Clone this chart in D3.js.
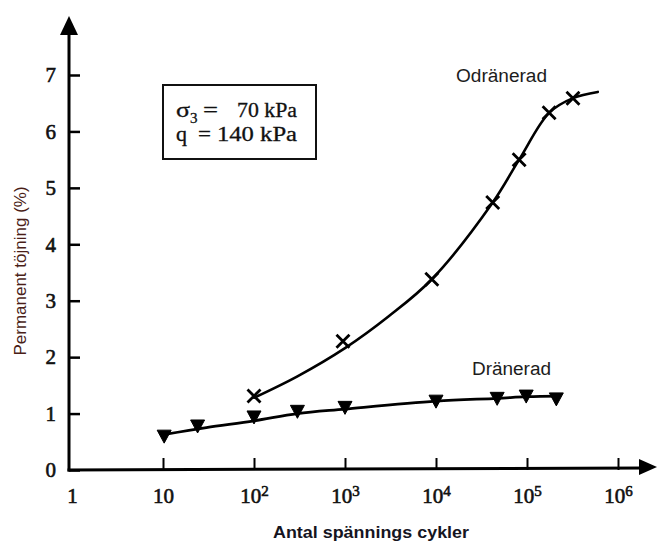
<!DOCTYPE html>
<html>
<head>
<meta charset="utf-8">
<script src="https://cdn.jsdelivr.net/npm/d3@7/dist/d3.min.js"></script>
<style>
  html, body { margin: 0; padding: 0; background: #fff; }
  svg { display: block; }
</style>
</head>
<body>
<svg id="chart" width="657" height="541"></svg>
<script>
// ---------------- data ----------------
const xTicks = [1, 10, 100, 1000, 10000, 100000, 1000000];
const xTickBase = ["1", "10", "10", "10", "10", "10", "10"];
const xTickExp = ["", "", "2", "3", "4", "5", "6"];
const yTicks = [0, 1, 2, 3, 4, 5, 6, 7];

// Odränerad (undrained) measured points (x markers)
const undrainedCycles = [100, 950, 9000, 42000, 82000, 175000, 320000];
const undrainedStrain = [1.31, 2.28, 3.38, 4.74, 5.50, 6.33, 6.59];
// Odränerad fitted curve
const undrainedFitCycles = [100, 300, 1000, 3000, 9000, 42000, 82000, 175000, 320000, 600000];
const undrainedFitStrain = [1.28, 1.66, 2.16, 2.72, 3.38, 4.74, 5.50, 6.33, 6.59, 6.70];

// Dränerad (drained) measured points (triangles)
const drainedCycles = [10.3, 24, 100, 300, 1000, 10000, 47000, 98000, 210000];
const drainedStrain = [0.60, 0.78, 0.94, 1.04, 1.11, 1.22, 1.27, 1.31, 1.26];
// Dränerad fitted curve
const drainedFitCycles = [10.5, 30, 100, 300, 1000, 10000, 47000, 100000, 230000];
const drainedFitStrain = [0.63, 0.75, 0.87, 1.00, 1.08, 1.22, 1.27, 1.30, 1.31];

const seriesLabels = ["Odränerad", "Dränerad"];
const xTitle = "Antal spännings cykler";
const yTitle = "Permanent töjning (%)";

// ---------------- drawing ----------------
const svg = d3.select("#chart");
const axisX0 = 69, axisY0 = 470;

const x = d3.scaleLog().domain([1, 1e6]).range([72, 618]);
const y = d3.scaleLinear().domain([0, 7]).range([axisY0, 75]);

const serif = "'Liberation Serif', 'Times New Roman', serif";
const sans = "'Liberation Sans', Arial, sans-serif";

// Y axis
const gy = svg.append("g")
  .attr("transform", `translate(${axisX0},0)`)
  .call(d3.axisLeft(y).tickValues(yTicks).tickSize(-11).tickPadding(13).tickFormat(d3.format("d")));
gy.select(".domain").remove();
gy.selectAll(".tick line").attr("stroke", "#000").attr("stroke-width", 2.5);
gy.selectAll(".tick text")
  .attr("font-family", serif).attr("font-size", 21).attr("fill", "#111")
  .attr("stroke", "#111").attr("stroke-width", 0.6);

// X axis
const gx = svg.append("g")
  .attr("transform", `translate(0,${axisY0})`)
  .call(d3.axisBottom(x).tickValues(xTicks).tickSize(-12).tickPadding(18).tickFormat(() => ""));
gx.select(".domain").remove();
gx.selectAll(".tick line").attr("stroke", "#000").attr("stroke-width", 2)
  .filter(d => d === 1).remove();
gx.selectAll(".tick text").each(function(d, i) {
  const t = d3.select(this);
  t.text(null)
   .attr("font-family", serif).attr("font-size", 21).attr("fill", "#111")
   .attr("stroke", "#111").attr("stroke-width", 0.6);
  t.append("tspan").text(xTickBase[i]);
  if (xTickExp[i]) {
    t.append("tspan").attr("font-size", 15).attr("dy", "-7").text(xTickExp[i]);
  }
});

// axis lines with arrows
svg.append("line").attr("x1", axisX0).attr("y1", axisY0 + 1.5).attr("x2", axisX0).attr("y2", 30)
  .attr("stroke", "#000").attr("stroke-width", 3);
svg.append("path")
  .attr("d", `M${axisX0},16 L${axisX0 - 9},35 L${axisX0 + 9},35 Z`).attr("fill", "#000");
svg.append("line").attr("x1", axisX0 - 1.5).attr("y1", axisY0).attr("x2", 645).attr("y2", axisY0 - 2)
  .attr("stroke", "#000").attr("stroke-width", 3);
svg.append("path")
  .attr("d", `M657,${axisY0 - 3} L639,${axisY0 - 11} L639,${axisY0 + 5} Z`).attr("fill", "#000");

// curves
const line = d3.line().x(d => x(d[0])).y(d => y(d[1])).curve(d3.curveCatmullRom.alpha(0.5));
const undrainedFit = undrainedFitCycles.map((c, i) => [c, undrainedFitStrain[i]]);
const drainedFit = drainedFitCycles.map((c, i) => [c, drainedFitStrain[i]]);

svg.append("path").datum(undrainedFit).attr("d", line)
  .attr("fill", "none").attr("stroke", "#000").attr("stroke-width", 2.6).attr("stroke-linecap", "round");
svg.append("path").datum(drainedFit).attr("d", line)
  .attr("fill", "none").attr("stroke", "#000").attr("stroke-width", 2.8).attr("stroke-linecap", "round");

// x markers
const undrainedPts = undrainedCycles.map((c, i) => [c, undrainedStrain[i]]);
svg.append("g").selectAll("path").data(undrainedPts).join("path")
  .attr("transform", d => `translate(${x(d[0])},${y(d[1])})`)
  .attr("d", "M-6.5,-6.5 L6.5,6.5 M-6.5,6.5 L6.5,-6.5")
  .attr("stroke", "#000").attr("stroke-width", 2.8).attr("fill", "none");

// triangle markers
const drainedPts = drainedCycles.map((c, i) => [c, drainedStrain[i]]);
svg.append("g").selectAll("path").data(drainedPts).join("path")
  .attr("transform", d => `translate(${x(d[0])},${y(d[1])})`)
  .attr("d", "M-7,-6 L7,-6 L0,7 Z")
  .attr("fill", "#000").attr("stroke", "#000").attr("stroke-width", 1).attr("stroke-linejoin", "round");

// series labels
svg.append("text").attr("x", 456).attr("y", 82).text(seriesLabels[0])
  .attr("font-family", sans).attr("font-size", 18).attr("fill", "#1c1c1c")
  .attr("textLength", 91).attr("lengthAdjust", "spacingAndGlyphs");
svg.append("text").attr("x", 472).attr("y", 375).text(seriesLabels[1])
  .attr("font-family", sans).attr("font-size", 18).attr("fill", "#1c1c1c")
  .attr("textLength", 79).attr("lengthAdjust", "spacingAndGlyphs");

// axis titles
svg.append("text").attr("x", 371).attr("y", 538).attr("text-anchor", "middle").text(xTitle)
  .attr("font-family", sans).attr("font-size", 17).attr("font-weight", "bold").attr("fill", "#15151f")
  .attr("textLength", 196).attr("lengthAdjust", "spacingAndGlyphs");
svg.append("text").attr("transform", "translate(26,271) rotate(-90)").attr("text-anchor", "middle").text(yTitle)
  .attr("font-family", sans).attr("font-size", 17).attr("fill", "#4a1e18");

// parameter box
svg.append("rect").attr("x", 163).attr("y", 85).attr("width", 153).attr("height", 74)
  .attr("fill", "none").attr("stroke", "#111").attr("stroke-width", 2);
const boxText = (tx, ty, s, anchor, len) => {
  const t = svg.append("text").attr("x", tx).attr("y", ty).attr("text-anchor", anchor)
    .attr("font-family", serif).attr("font-size", 20).attr("fill", "#111")
    .attr("stroke", "#111").attr("stroke-width", 0.3).text(s);
  if (len) t.attr("textLength", len).attr("lengthAdjust", "spacingAndGlyphs");
  return t;
};
boxText(176, 117, "σ", "start", 14);
svg.append("text").attr("x", 190).attr("y", 123).text("3")
  .attr("font-family", serif).attr("font-size", 15).attr("fill", "#111").attr("stroke", "#111").attr("stroke-width", 0.3);
boxText(203, 117, "=", "start", 15);
boxText(297, 117, "70 kPa", "end", 60);
boxText(176, 141, "q", "start", 11);
boxText(198, 141, "=", "start", 13);
boxText(297, 141, "140 kPa", "end", 80);
</script>
</body>
</html>
